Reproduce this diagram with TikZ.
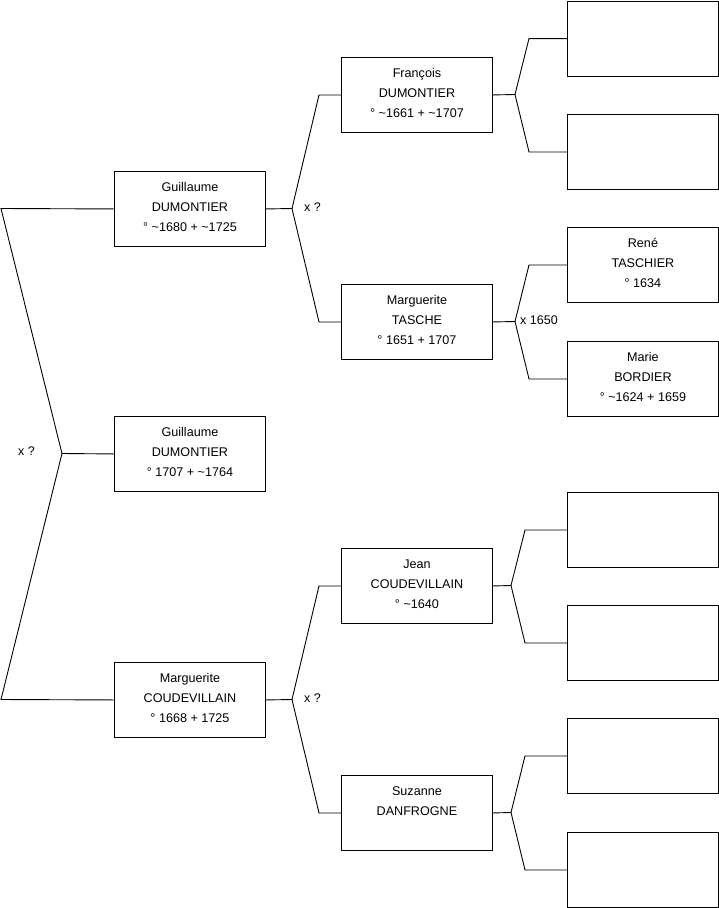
\documentclass[tikz,border=0pt]{standalone}
\usepackage{fontspec}
\setmainfont{Liberation Sans}
\begin{document}
\begin{tikzpicture}[x=1pt,y=-1pt,
  person/.style={draw=black, line width=0.9pt, minimum width=151pt, minimum height=75pt,
    inner sep=0pt, align=center, font=\fontsize{12.6}{20}\selectfont, text depth=4.5pt, anchor=north west},
  link/.style={draw=black, line width=0.9pt},
  lbl/.style={anchor=west, inner sep=0pt, font=\fontsize{12.5}{15}\selectfont}]
\useasboundingbox (0,0) rectangle (719,908);

% generation 1
\node[person] (g0) at (114,416) {Guillaume\\DUMONTIER\\° 1707 + \textasciitilde1764};
% generation 2
\node[person] (g1) at (114,171) {Guillaume\\DUMONTIER\\° \textasciitilde1680 + \textasciitilde1725};
\node[person] (m1) at (114,662) {Marguerite\\COUDEVILLAIN\\° 1668 + 1725};
% generation 3
\node[person] (f) at (341,57) {François\\DUMONTIER\\° \textasciitilde1661 + \textasciitilde1707};
\node[person] (t) at (341,284) {Marguerite\\TASCHE\\° 1651 + 1707};
\node[person] (j) at (341,548) {Jean\\COUDEVILLAIN\\° \textasciitilde1640};
\node[person] (s) at (341,775) {Suzanne\\DANFROGNE\\\strut};
% generation 4
\node[person] (r1) at (567,0.6) {};
\node[person] (r2) at (567,114) {};
\node[person] (r3) at (567,227) {René\\TASCHIER\\° 1634};
\node[person] (r4) at (567,341) {Marie\\BORDIER\\° \textasciitilde1624 + 1659};
\node[person] (r5) at (567,492) {};
\node[person] (r6) at (567,605) {};
\node[person] (r7) at (567,718) {};
\node[person] (r8) at (567,832) {};

% junction coordinates
\coordinate (j0) at (62,453.5);
\coordinate (e1) at (1,208.5);
\coordinate (e2) at (1,699.5);
\coordinate (j1) at (292,208.5);
\coordinate (j2) at (292,699.5);
\coordinate (jf) at (515,94.5);
\coordinate (jt) at (515,321.5);
\coordinate (jj) at (511,585.5);
\coordinate (js) at (511,812.5);

% connectors
\draw[link] (g1.west) -- (e1) -- (j0) -- (g0.west);
\draw[link] (m1.west) -- (e2) -- (j0);

\draw[link] (g1.east) -- (j1) -- ([xshift=-22pt]f.west) -- (f.west);
\draw[link] (j1) -- ([xshift=-22pt]t.west) -- (t.west);
\draw[link] (m1.east) -- (j2) -- ([xshift=-22pt]j.west) -- (j.west);
\draw[link] (j2) -- ([xshift=-22pt]s.west) -- (s.west);

\draw[link] (f.east) -- (jf) -- ([xshift=-38pt]r1.west) -- (r1.west);
\draw[link] (jf) -- ([xshift=-38pt]r2.west) -- (r2.west);
\draw[link] (t.east) -- (jt) -- ([xshift=-38pt]r3.west) -- (r3.west);
\draw[link] (jt) -- ([xshift=-38pt]r4.west) -- (r4.west);
\draw[link] (j.east) -- (jj) -- ([xshift=-42pt]r5.west) -- (r5.west);
\draw[link] (jj) -- ([xshift=-42pt]r6.west) -- (r6.west);
\draw[link] (s.east) -- (js) -- ([xshift=-42pt]r7.west) -- (r7.west);
\draw[link] (js) -- ([xshift=-42pt]r8.west) -- (r8.west);

% marriage labels
\node[lbl] (x0) at (18,451) {x ?};
\node[lbl] (x1) at (304,207) {x ?};
\node[lbl] (x2) at (304,698) {x ?};
\node[lbl] (x3) at (520,320) {x 1650};
\end{tikzpicture}
\end{document}
